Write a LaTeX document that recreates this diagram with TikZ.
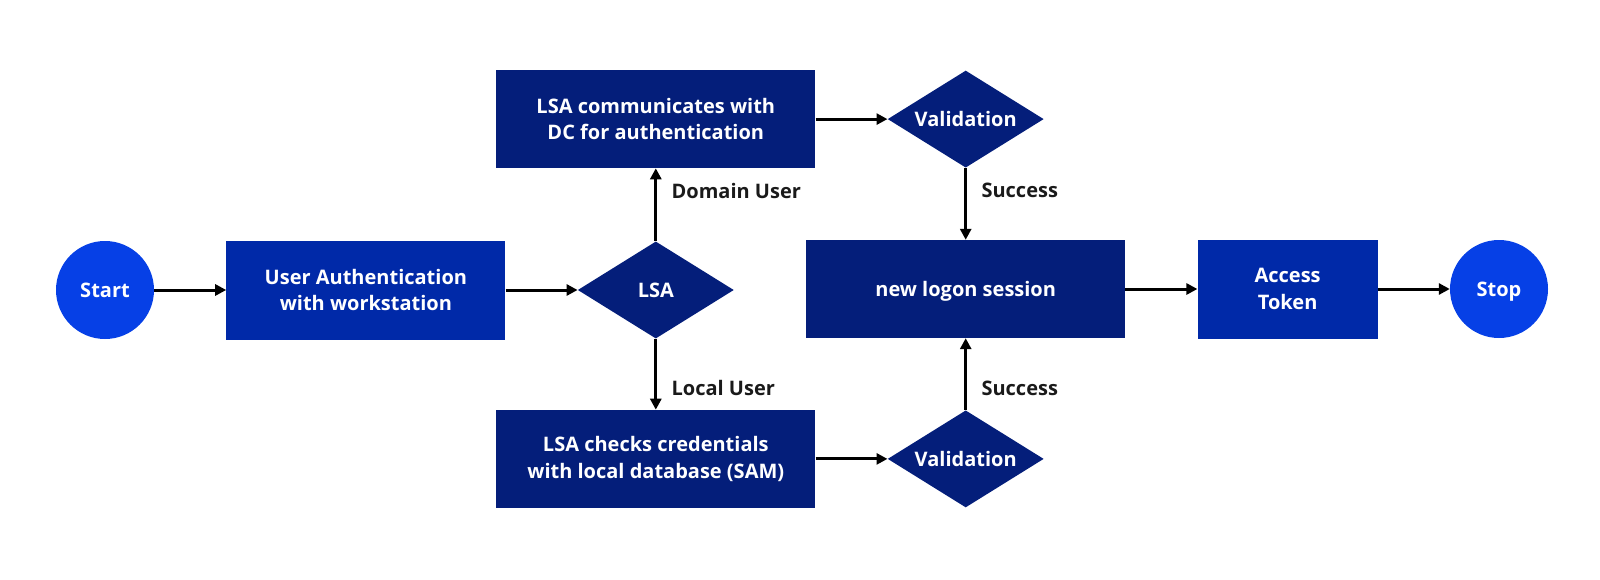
\documentclass[tikz,border=0pt]{standalone}
\usepackage{fontspec}
\setmainfont{Open Sans}
\usepackage{tikz}
\usetikzlibrary{arrows.meta,positioning,shapes.geometric}
\definecolor{termblue}{RGB}{6,64,230}
\definecolor{midblue}{RGB}{0,41,168}
\definecolor{deepblue}{RGB}{4,30,122}
\definecolor{labelgray}{RGB}{26,26,26}
\tikzset{
  terminal/.style ={circle,fill=termblue,text=white,minimum size=98pt,inner sep=0pt,text depth=0pt,
                    font=\fontsize{20}{26.5}\selectfont\bfseries},
  process/.style  ={rectangle,fill=midblue,text=white,align=center,minimum height=99pt,inner sep=0pt,
                    font=\fontsize{20}{26.5}\selectfont\bfseries},
  darkbox/.style  ={rectangle,fill=deepblue,text=white,align=center,minimum width=319pt,minimum height=98pt,
                    inner sep=0pt,font=\fontsize{20}{26.5}\selectfont\bfseries},
  decision/.style ={diamond,fill=deepblue,text=white,aspect=1.6,minimum width=156pt,minimum height=97pt,
                    inner sep=0pt,font=\fontsize{20}{26.5}\selectfont\bfseries},
  arrow/.style    ={-{Triangle[length=11pt,width=11pt]},line width=3pt,black},
  edgelabel/.style={text=labelgray,font=\fontsize{20}{24}\selectfont\bfseries,anchor=west,xshift=11pt}
}
\begin{document}
\begin{tikzpicture}[node distance=72pt]
    \useasboundingbox (0,0) rectangle (1600pt,-580pt);
    \node[terminal] (start) at (105pt,-290pt) {Start};
    \node[process,minimum width=279pt,right=72pt of start] (auth)   {User Authentication\\with workstation};
    \node[decision,right=72pt of auth]                     (lsa)    {LSA};
    \node[darkbox,above=73pt of lsa]                       (dc)     {LSA communicates with\\DC for authentication};
    \node[decision,right=72pt of dc]                       (valdc)  {Validation};
    \node[darkbox,text depth=0pt,below=72pt of valdc]      (logon)  {new logon session};
    \node[process,minimum width=180pt,right=72pt of logon] (token)  {Access\\Token};
    \node[terminal,right=72pt of token]                    (stop)   {Stop};
    \node[darkbox,below=71pt of lsa]                       (sam)    {LSA checks credentials\\with local database (SAM)};
    \node[decision,right=72pt of sam]                      (valsam) {Validation};
    \draw[arrow] (start) -- (auth);
    \draw[arrow] (auth)  -- (lsa);
    \draw[arrow] (lsa)   -- node[edgelabel,pos=0.69] {Domain User} (dc);
    \draw[arrow] (lsa)   -- node[edgelabel,pos=0.70] {Local User} (sam);
    \draw[arrow] (dc)    -- (valdc);
    \draw[arrow] (sam)   -- (valsam);
    \draw[arrow] (valdc) -- node[edgelabel,pos=0.32] {Success} (logon);
    \draw[arrow] (valsam)-- node[edgelabel,pos=0.31] {Success} (logon);
    \draw[arrow] (logon) -- (token);
    \draw[arrow] (token) -- (stop);
  \end{tikzpicture}
\end{document}
